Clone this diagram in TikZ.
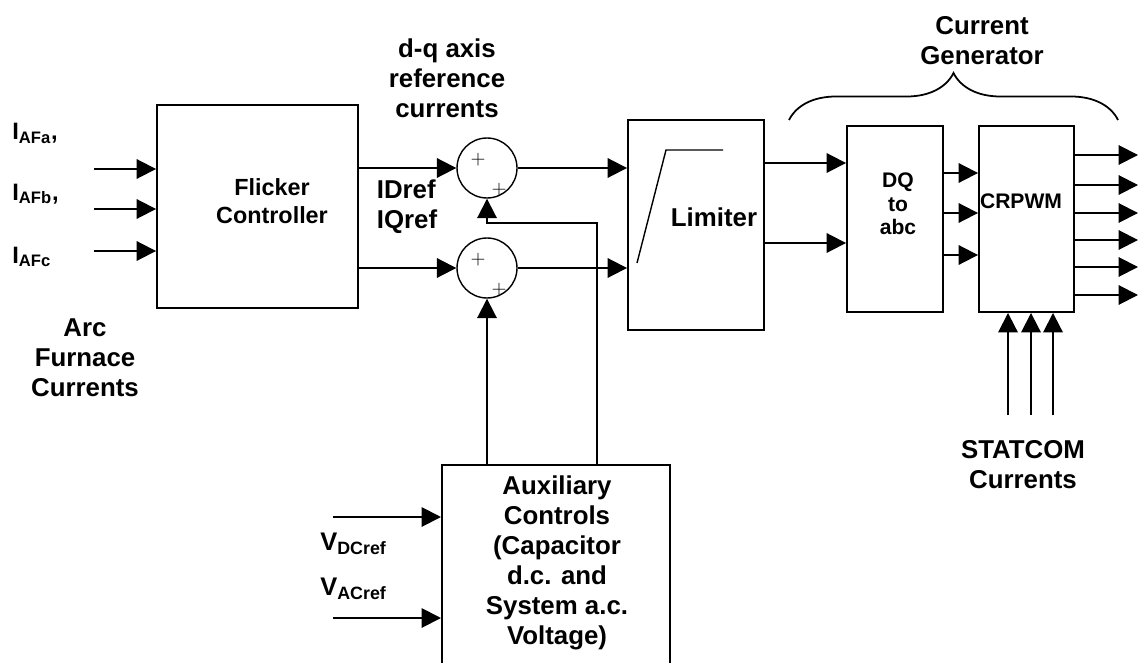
\documentclass[tikz,border=0pt]{standalone}
\usepackage{fontspec}
\setmainfont{Liberation Sans}
\usetikzlibrary{arrows.meta, positioning, decorations.pathreplacing}

\begin{document}
\begin{tikzpicture}[
  x=0.02cm, y=-0.02cm,
  blk/.style={draw, line width=1.1pt, inner sep=0pt},
  sum/.style={circle, draw, line width=0.8pt, minimum size=1.2cm, inner sep=0pt},
  lbl/.style={font=\fontsize{14.7}{17}\selectfont\bfseries, align=center},
  sml/.style={font=\fontsize{12}{13.3}\selectfont\bfseries, align=center},
  sig/.style={font=\fontsize{13.5}{15}\selectfont\bfseries, anchor=base west, inner sep=0pt},
  pls/.style={font=\fontsize{11}{11}\selectfont, inner sep=0pt},
  arr/.style={line width=1.1pt, -{Triangle[length=11pt, width=11pt]}}
]
\useasboundingbox (0,0) rectangle (1141,662);

% blocks
\node[blk, minimum width=4.02cm, minimum height=4.06cm] (fc) at (257.5,206.5) {};
\node[lbl, font=\fontsize{13.3}{15.9}\selectfont\bfseries] (fclbl) at (272,201) {Flicker\\Controller};

\node[sum] (s1) at (487,168) {};
\node[sum] (s2) at (487,268) {};
\foreach \s in {s1,s2} {
  \node[pls] (\s-p1) at ([shift={(-9,-8)}]\s) {$+$};
  \node[pls] (\s-p2) at ([shift={(12,22)}]\s) {$+$};
}

\node[blk, minimum width=2.72cm, minimum height=4.2cm] (lim) at (696,225) {};
\node[lbl] (limlbl) at (714,217) {Limiter};
\draw[line width=0.8pt] (637,263) -- (666,150) -- (723,150);

\node[blk, minimum width=1.92cm, minimum height=3.72cm] (dq) at (895,219) {};
\node[sml] (dqlbl) at (898,204) {DQ\\to\\abc};
\node[blk, minimum width=1.9cm, minimum height=3.72cm] (pwm) at (1026.5,219) {};
\node[sml] (pwmlbl) at (1021,201) {CRPWM};

\node[blk, minimum width=4.56cm, minimum height=4.4cm, anchor=north west] (aux) at (441,464) {};
\node[lbl] (auxlbl) at (557,563) {Auxiliary\\Controls\\(Capacitor\\d.c. and\\System a.c.\\Voltage)};

% labels
\node[lbl] (dqref) at (447,78) {d-q axis\\reference\\currents};
\node[lbl, align=left] (iref) at (407,207) {IDref\\IQref};
\node[lbl] (cg) at (982,41) {Current\\Generator};
\node[lbl] (arc) at (85,358) {Arc\\Furnace\\Currents};
\node[lbl] (stat) at (1023,465) {STATCOM\\Currents};
\node[sig] (ia) at (12,140) {I\textsubscript{AFa},};
\node[sig] (ib) at (12,200) {I\textsubscript{AFb},};
\node[sig] (ic) at (12,263) {I\textsubscript{AFc}};
\node[sig, font=\fontsize{14.5}{16}\selectfont\bfseries] (vdc) at (320,550) {V\textsubscript{DCref}};
\node[sig, font=\fontsize{14.5}{16}\selectfont\bfseries] (vac) at (320,595) {V\textsubscript{ACref}};

\draw[line width=1pt, decorate, decoration={brace, amplitude=0.94cm}] (789,120) -- (1118,120);

% connectors
\foreach \y [count=\i] in {169,209,251} {
  \coordinate (in\i) at (94,\y);
  \draw[arr] (in\i) -- (in\i -| fc.west);
}
\draw[arr] (fc.east |- s1) -- (s1.west);
\draw[arr] (fc.east |- s2) -- (s2.west);
\draw[arr] (s1.east) -- (s1 -| lim.west);
\draw[arr] (s2.east) -- (s2 -| lim.west);
\draw[arr] (aux.north -| s2) -- (s2.south);
\coordinate (fb) at (597,223);
\draw[arr] (aux.north -| fb) -- (fb) -| (s1.south);

\foreach \y [count=\i] in {163,243} {
  \coordinate (lq\i) at (800,\y);
  \draw[arr] (lim.east |- lq\i) -- (dq.west |- lq\i);
}
\foreach \y [count=\i] in {173,213,255} {
  \coordinate (qp\i) at (960,\y);
  \draw[arr] (dq.east |- qp\i) -- (pwm.west |- qp\i);
}
\foreach \y [count=\i] in {155,185,213,240,267,295} {
  \coordinate (o\i) at (1138,\y);
  \draw[arr] (pwm.east |- o\i) -- (o\i);
}
\foreach \x [count=\i] in {1008,1031,1053} {
  \coordinate (st\i) at (\x,415);
  \draw[arr] (st\i) -- (st\i |- pwm.south);
}
\foreach \y [count=\i] in {517,618} {
  \coordinate (v\i) at (333,\y);
  \draw[arr] (v\i) -- (v\i -| aux.west);
}
\end{tikzpicture}
\end{document}
